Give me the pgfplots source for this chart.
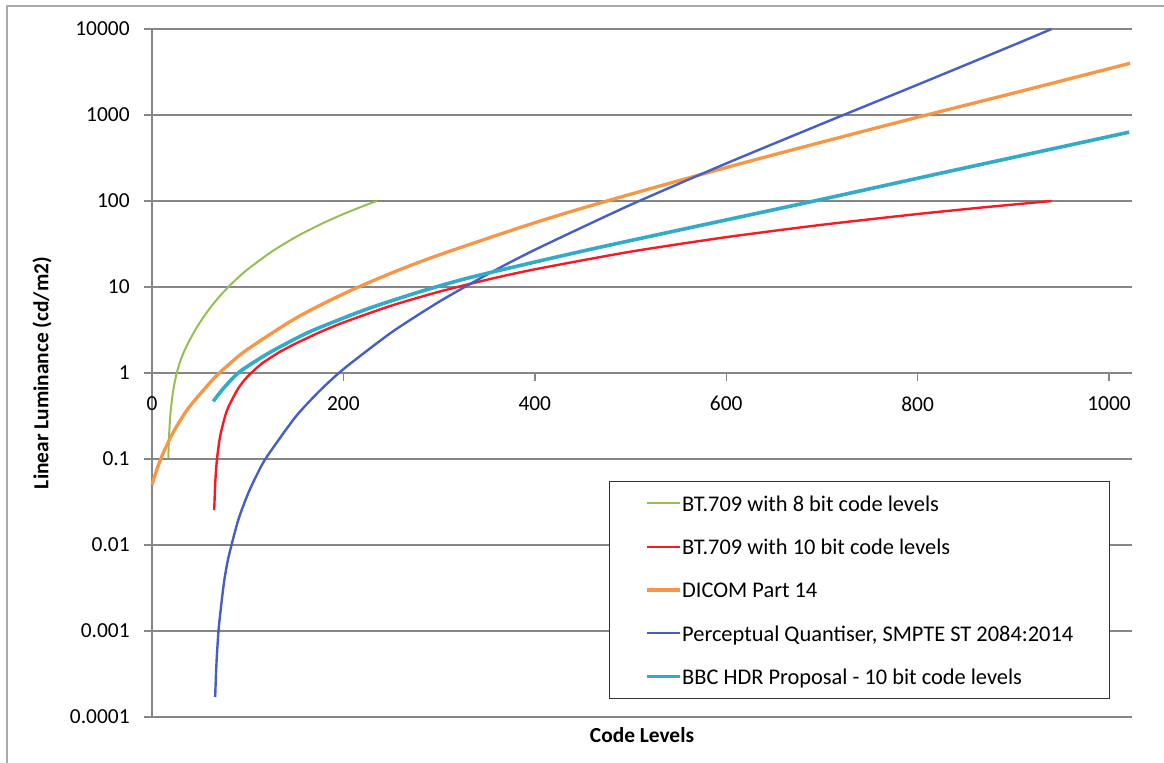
\documentclass[border=0pt]{standalone}
\usepackage{fontspec}
\setmainfont{Carlito}
\usepackage{pgfplots}
\usepackage{pgfplotstable}
\pgfplotsset{compat=1.18}
\definecolor{cgreen}{RGB}{150,190,80}
\definecolor{cred}{RGB}{250,25,35}
\definecolor{corange}{RGB}{247,150,70}
\definecolor{cblue}{RGB}{70,95,195}
\definecolor{ccyan}{RGB}{50,170,200}
\definecolor{gridgray}{RGB}{134,134,134}
\definecolor{framegray}{RGB}{170,170,170}

\pgfplotstableread{
code L
17 0.1015
18 0.2029
19 0.3044
20 0.4059
22 0.6088
25 0.9132
28 1.2177
30 1.4206
33 1.7250
34 1.821
37 2.141
40 2.490
45 3.137
50 3.866
60 5.581
70 7.647
80 10.07
90 12.87
100 16.06
125 25.74
150 37.98
175 52.88
200 70.52
220 86.68
235 100
}\greentab

\pgfplotstableread{
code L
65 0.02537
66 0.05074
67 0.07610
68 0.1015
70 0.1522
72 0.2029
76 0.3044
80 0.4059
90 0.6596
100 0.9132
115 1.2938
134 1.7758
135 1.796
150 2.197
175 2.968
200 3.866
250 6.064
300 8.814
350 12.14
400 16.06
500 25.74
600 37.98
700 52.88
800 70.52
870 84.56
940 100
}\redtab

\pgfplotstableread{
code L
0 0.0500
2 0.0594
5 0.0750
10 0.1056
20 0.1839
30 0.2866
40 0.4162
64 0.8495
80 1.2476
100 1.887
150 4.321
200 8.316
250 14.49
300 23.59
400 55.9
480 103.5
600 244.9
700 484
800 941
900 1794
1022 3993
}\orangetab

\pgfplotstableread{
code L
66 0.0001708
67 0.0003430
68 0.0005659
70 0.001160
75 0.003532
80 0.007252
90 0.01933
100 0.03874
110 0.06708
120 0.1062
150 0.3092
175 0.6169
200 1.108
250 2.954
300 6.733
350 13.93
400 27.05
500 90.19
600 273.1
700 789.5
800 2250
900 6486
940 10000
}\bluetab

\pgfplotstableread{
code L
64 0.468
75 0.670
90 1.000
105 1.303
125 1.782
160 2.851
190 3.936
225 5.559
260 7.499
295 9.886
343 13.80
447 25.70
552 46.24
692 100
829 216.3
1021 631
}\cyantab

\begin{document}
\fontsize{10.7}{12.8}\selectfont
\begin{tikzpicture}
\useasboundingbox (0,0) rectangle (582pt,381.5pt);
\draw[framegray, line width=0.75pt] (3.5pt,0pt) -- (3.5pt,378.5pt) -- (582pt,378.5pt);
\begin{axis}[
  at={(76pt,23pt)}, anchor=south west,
  scale only axis, width=490pt, height=344pt,
  xmin=0, xmax=1024, ymin=0.0001, ymax=10000,
  ymode=log, log basis y=10,
  axis x line*=middle, axis y line*=left,
  hide obscured x ticks=false,
  axis line style={gridgray, line width=0.7pt},
  ymajorgrids, grid style={gridgray, line width=0.7pt},
  yminorticks=false,
  xtick={0,200,400,600,800,1000},
  xticklabels={0,200,400,600,800,1000},
  ytick={0.0001,0.001,0.01,0.1,1,10,100,1000,10000},
  yticklabels={0.0001,0.001,0.01,0.1,1,10,100,1000,10000},
  tick align=outside, major tick length=4pt,
  tick style={gridgray, line width=0.7pt},
  /pgf/number format/assume math mode=true,
  xticklabel style={anchor=north, inner sep=0pt, yshift=-7.5pt},
  yticklabel style={anchor=east, inner sep=0pt, xshift=-7pt},
  every axis x label/.style={at={(axis description cs:0.5,-0.026)}, anchor=center, font=\bfseries},
  every axis y label/.style={at={(axis description cs:-0.1122,0.5)}, rotate=90, anchor=center, font=\bfseries},
  xlabel={Code Levels},
  ylabel={Linear Luminance (cd/m2)},
  legend style={at={(axis description cs:0.4663,0.3430)}, anchor=north west,
    draw=black!80, line width=0.65pt, fill=white, inner xsep=18pt, inner ysep=5.4pt,
    row sep=10.65pt, column sep=0pt, nodes={inner sep=0pt},
    font=\fontsize{11.2}{13.4}\selectfont},
  legend cell align=left,
  legend image code/.code={\draw[#1] (0pt,0pt) -- (16.5pt,0pt);},
  clip=false,
]
\addplot[cgreen, line width=1.0pt, smooth, tension=0.4] table[x=code, y=L] {\greentab};
\addlegendentry{\strut BT.709 with 8 bit code levels}
\addplot[cred, line width=1.2pt, smooth, tension=0.4] table[x=code, y=L] {\redtab};
\addlegendentry{\strut BT.709 with 10 bit code levels}
\addplot[corange, line width=1.65pt, smooth, tension=0.5] table[x=code, y=L] {\orangetab};
\addlegendentry{\strut DICOM Part 14}
\addplot[cblue, line width=1.2pt, smooth, tension=0.4] table[x=code, y=L] {\bluetab};
\addlegendentry{\strut Perceptual Quantiser, SMPTE ST 2084:2014}
\addplot[ccyan, line width=1.8pt, smooth, tension=0.5] table[x=code, y=L] {\cyantab};
\addlegendentry{\strut BBC HDR Proposal - 10 bit code levels}
\end{axis}
\end{tikzpicture}
\end{document}
